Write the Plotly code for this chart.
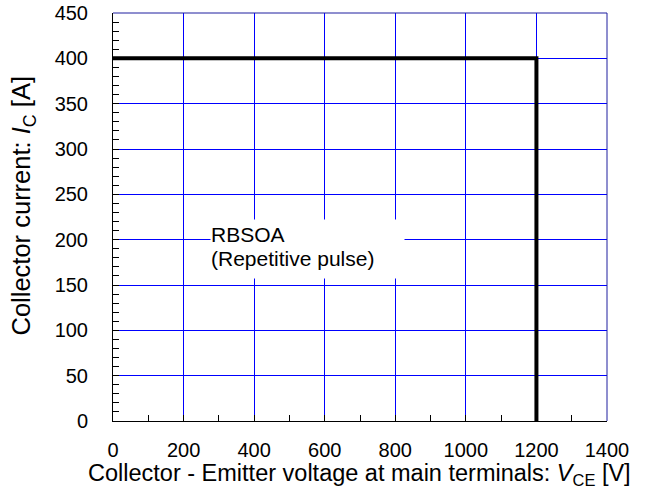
import plotly.graph_objects as go

# RBSOA boundary (repetitive pulse): collector-emitter voltage [V] vs collector current [A]
vce = [0, 1200, 1200]
ic = [400, 400, 0]

x_ticks = [0, 200, 400, 600, 800, 1000, 1200, 1400]
y_ticks = [0, 50, 100, 150, 200, 250, 300, 350, 400, 450]

label_lines = ["RBSOA", "(Repetitive pulse)"]
x_title = "Collector - Emitter voltage at main terminals: <i>V</i><sub>CE</sub> [V]"
y_title = "Collector current: <i>I</i><sub>C</sub> [A]"

FONT = "Liberation Sans, Arial, sans-serif"
GRID = "#0000FF"
FRAME = "#1f1f9f"

fig = go.Figure()
fig.add_trace(go.Scatter(
    x=vce, y=ic, mode="lines",
    line=dict(color="black", width=4),
    showlegend=False, hoverinfo="skip",
))

# Region label on a white box that masks the grid behind it
fig.add_annotation(
    x=275, y=222.6, xref="x", yref="y",
    xanchor="left", yanchor="top",
    text=label_lines[0], showarrow=False, align="left", valign="middle",
    width=193, height=29, borderpad=0, bgcolor="white",
    font=dict(family=FONT, size=21, color="black"),
)
fig.add_annotation(
    x=275, y=190.6, xref="x", yref="y",
    xanchor="left", yanchor="top",
    text=label_lines[1], showarrow=False, align="left", valign="top",
    width=193, height=31, borderpad=0, bgcolor="white",
    font=dict(family=FONT, size=21, color="black"),
    yshift=2,
)

# Axis titles
fig.add_annotation(
    x=0.498, y=-0.1305, xref="paper", yref="paper",
    xanchor="center", yanchor="middle",
    text=x_title, showarrow=False,
    font=dict(family=FONT, size=23.5, color="black"),
)
fig.add_annotation(
    x=-0.1815, y=0.529, xref="paper", yref="paper",
    xanchor="center", yanchor="middle", textangle=-90,
    text=y_title, showarrow=False,
    font=dict(family=FONT, size=25.5, color="black"),
)

# Top and right frame edges
fig.add_shape(type="line", xref="paper", yref="paper", x0=0, x1=1, y0=1, y1=1,
              line=dict(color=FRAME, width=1))
fig.add_shape(type="line", xref="paper", yref="paper", x0=1, x1=1, y0=0, y1=1,
              line=dict(color=FRAME, width=1))

axis_common = dict(
    showgrid=True, gridcolor=GRID, gridwidth=1,
    zeroline=False, showline=True, linecolor="black", linewidth=1,
    ticks="inside", ticklen=6, tickcolor="black", tickwidth=1,
    tickfont=dict(family=FONT, size=20, color="black"),
)

fig.update_xaxes(
    range=[0, 1400], tickvals=x_ticks,
    minor=dict(dtick=100, ticks="inside", ticklen=6, tickcolor="black", showgrid=False),
    ticklabelstandoff=11,
    **axis_common,
)
fig.update_yaxes(
    range=[0, 450], tickvals=y_ticks,
    minor=dict(dtick=10, ticks="inside", ticklen=6, tickcolor="black", showgrid=False),
    ticklabelstandoff=20,
    **axis_common,
)

fig.update_layout(
    width=646, height=488,
    margin=dict(l=113, r=39, t=13, b=67, autoexpand=False),
    plot_bgcolor="white", paper_bgcolor="white",
    font=dict(family=FONT, color="black"),
)

fig.write_html("out.html")
